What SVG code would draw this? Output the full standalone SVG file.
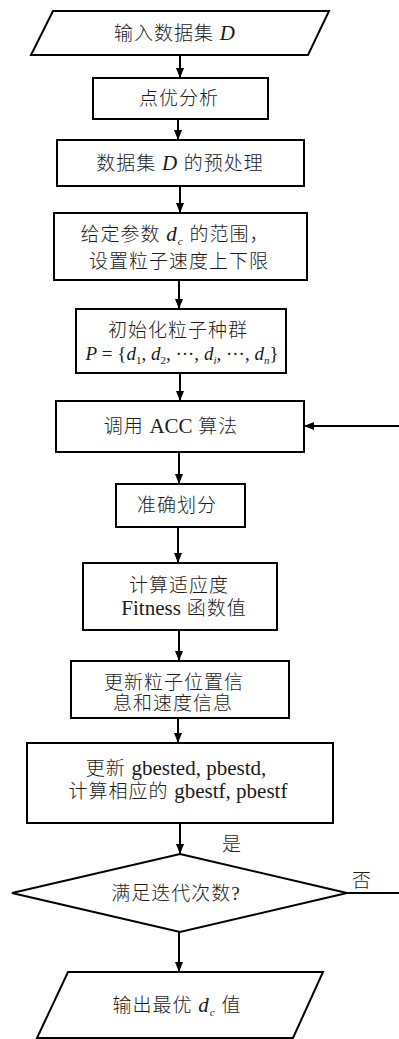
<svg xmlns="http://www.w3.org/2000/svg" width="399" height="1039" viewBox="0 0 399 1039">
<defs>
<marker id="arr" markerWidth="10" markerHeight="8" refX="10" refY="4" orient="auto" markerUnits="userSpaceOnUse">
<path d="M0,0 L10,4 L0,8 z" fill="#000"/>
</marker>
<style>
.n{fill:#fff;stroke:#000;stroke-width:2}
.c{fill:none;stroke:#000;stroke-width:2}
.t{font-family:"Liberation Serif","Noto Sans CJK SC",serif;font-size:19px;font-weight:300;fill:#1a1a1a;text-anchor:middle;letter-spacing:1px}
.i{font-style:italic}
.l{letter-spacing:0}
.b{font-size:21px}
.s{font-size:11px}
</style>
</defs>
<rect width="399" height="1039" fill="#fff"/>
<g id="connectors">
<path class="c" d="M180,55 V78" marker-end="url(#arr)"/>
<path class="c" d="M178,119 V140" marker-end="url(#arr)"/>
<path class="c" d="M180,186 V213" marker-end="url(#arr)"/>
<path class="c" d="M179,280 V309" marker-end="url(#arr)"/>
<path class="c" d="M180,373 V401" marker-end="url(#arr)"/>
<path class="c" d="M179,452 V484" marker-end="url(#arr)"/>
<path class="c" d="M178,527 V563" marker-end="url(#arr)"/>
<path class="c" d="M179,630 V661" marker-end="url(#arr)"/>
<path class="c" d="M178,718 V743" marker-end="url(#arr)"/>
<path class="c" d="M180,823 V854" marker-end="url(#arr)"/>
<path class="c" d="M179,932 V972" marker-end="url(#arr)"/>
<path class="c" d="M347,893 H402 V426 H304" marker-end="url(#arr)"/>
<text class="t" x="232" y="851">是</text>
<text class="t" x="362" y="887">否</text>
</g>
<g id="n1">
<polygon class="n" points="53,11 329,11 308,55 31,55"/>
<text class="t" x="175" y="40">输入数据集 <tspan class="i b">D</tspan></text>
</g>
<g id="n2">
<rect class="n" x="93" y="78" width="175" height="41"/>
<text class="t" x="179" y="105">点优分析</text>
</g>
<g id="n3">
<rect class="n" x="57" y="140" width="247" height="46"/>
<text class="t" x="180" y="170">数据集 <tspan class="i b">D</tspan> 的预处理</text>
</g>
<g id="n4">
<rect class="n" x="54" y="213" width="253" height="67"/>
<text class="t" x="175" y="241">给定参数 <tspan class="i b">d</tspan><tspan class="s i" dy="4">c</tspan><tspan dy="-4"> 的范围，</tspan></text>
<text class="t" x="179" y="268">设置粒子速度上下限</text>
</g>
<g id="n5">
<rect class="n" x="76" y="309" width="210" height="64"/>
<text class="t" x="178" y="337">初始化粒子种群</text>
<text class="t l" x="182" y="360"><tspan class="i">P</tspan> = {<tspan class="i">d</tspan><tspan class="s" dy="4">1</tspan><tspan dy="-4">, </tspan><tspan class="i">d</tspan><tspan class="s" dy="4">2</tspan><tspan dy="-4">, ···, </tspan><tspan class="i">d</tspan><tspan class="s i" dy="4">i</tspan><tspan dy="-4">, ···, </tspan><tspan class="i">d</tspan><tspan class="s i" dy="4">n</tspan><tspan dy="-4">}</tspan></text>
</g>
<g id="n6">
<rect class="n" x="56" y="401" width="248" height="51"/>
<text class="t" x="171" y="433">调用 <tspan class="l b">ACC</tspan> 算法</text>
</g>
<g id="n7">
<rect class="n" x="116" y="484" width="129" height="43"/>
<text class="t" x="177" y="512">准确划分</text>
</g>
<g id="n8">
<rect class="n" x="83" y="563" width="194" height="67"/>
<text class="t" x="179" y="592">计算适应度</text>
<text class="t" x="184" y="615"><tspan class="l b">Fitness</tspan> 函数值</text>
</g>
<g id="n9">
<rect class="n" x="71" y="661" width="218" height="57"/>
<text class="t" x="174" y="689">更新粒子位置信</text>
<text class="t" x="173" y="710">息和速度信息</text>
</g>
<g id="n10">
<rect class="n" x="27" y="743" width="306" height="80"/>
<text class="t" x="176" y="775">更新 <tspan class="l b">gbested, pbestd,</tspan></text>
<text class="t" x="178" y="798">计算相应的 <tspan class="l b">gbestf, pbestf</tspan></text>
</g>
<g id="n11">
<polygon class="n" points="180,854 347,893 180,932 12,893"/>
<text class="t" x="176" y="900">满足迭代次数?</text>
</g>
<g id="n12">
<polygon class="n" points="68,972 323,972 293,1038 37,1038"/>
<text class="t" x="177" y="1012">输出最优 <tspan class="i b">d</tspan><tspan class="s i" dy="4">c</tspan><tspan dy="-4"> 值</tspan></text>
</g>
</svg>
